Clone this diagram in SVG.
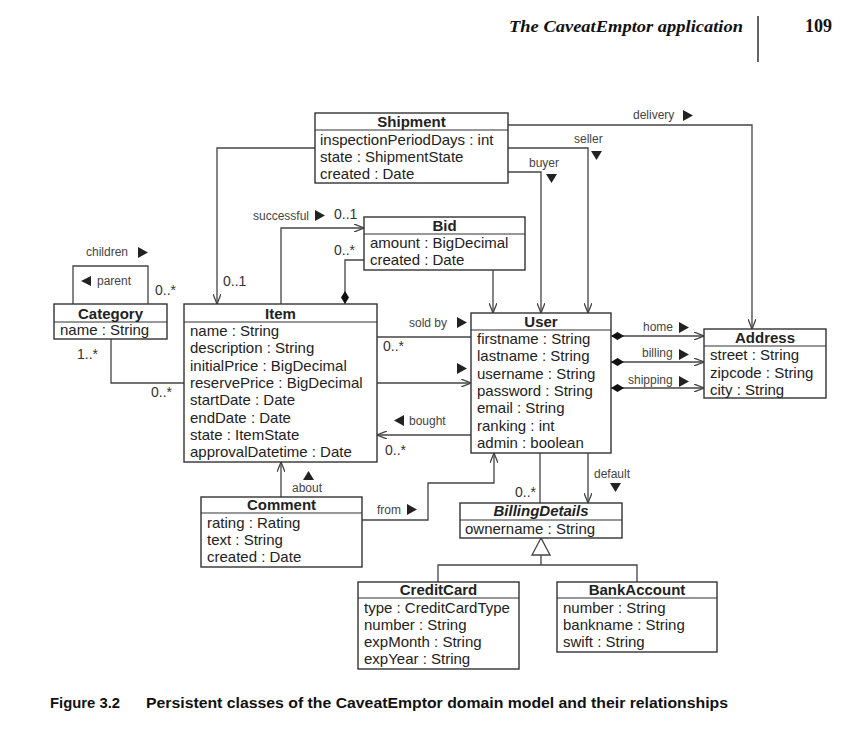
<svg xmlns="http://www.w3.org/2000/svg" width="855" height="731" viewBox="0 0 855 731">
<style>
.box{fill:#fff;stroke:#333;stroke-width:1.4}
.div{stroke:#333;stroke-width:1.2}
.t{font-family:"Liberation Sans",Arial,sans-serif;font-size:15px;fill:#222}
.h{font-family:"Liberation Sans",Arial,sans-serif;font-size:15px;font-weight:bold;fill:#222;text-anchor:middle}
.lbl{font-family:"Liberation Sans",Arial,sans-serif;font-size:12px;fill:#444}
.m{font-family:"Liberation Sans",Arial,sans-serif;font-size:14px;fill:#333}
.c{fill:none;stroke:#444;stroke-width:1.3}
.tri{fill:#222}
</style>
<defs>
<marker id="arr" viewBox="0 0 10 8" refX="10" refY="4" markerWidth="10" markerHeight="8" markerUnits="userSpaceOnUse" orient="auto">
<path d="M0,0 L10,4 L0,8" fill="none" stroke="#444" stroke-width="1.3"/>
</marker>
<marker id="dia" viewBox="0 0 13 8" refX="0" refY="4" markerWidth="13" markerHeight="8" markerUnits="userSpaceOnUse" orient="auto">
<path d="M0,4 L6.5,0 L13,4 L6.5,8 Z" fill="#111"/>
</marker>
<marker id="diaE" viewBox="0 0 13 8" refX="13" refY="4" markerWidth="13" markerHeight="8" markerUnits="userSpaceOnUse" orient="auto">
<path d="M0,4 L6.5,0 L13,4 L6.5,8 Z" fill="#111"/>
</marker>
</defs>

<!-- page header -->
<g id="header">
<text x="509" y="32" font-family="'Liberation Serif','Times New Roman',serif" font-size="17.5" font-weight="bold" font-style="italic" fill="#111" textLength="234" lengthAdjust="spacingAndGlyphs">The CaveatEmptor application</text>
<line x1="758" y1="16" x2="758" y2="62" stroke="#111" stroke-width="1.3"/>
<text x="805" y="32" font-family="'Liberation Serif','Times New Roman',serif" font-size="18" font-weight="bold" fill="#111">109</text>
</g>

<!-- connectors -->
<g id="connectors">
<path class="c" d="M508,125 H752 V329" marker-end="url(#arr)"/>
<path class="c" d="M508,148 H588 V313" marker-end="url(#arr)"/>
<path class="c" d="M508,172 H541 V313" marker-end="url(#arr)"/>
<path class="c" d="M315,148 H217 V304" marker-end="url(#arr)"/>
<path class="c" d="M281,304 V228 H364" marker-end="url(#arr)"/>
<path class="c" d="M364,260 H345 V304" marker-end="url(#diaE)"/>
<path class="c" d="M493,270 V313" marker-end="url(#arr)"/>
<path class="c" d="M73,304 V266 H148 V304"/>
<path class="c" d="M111,339 V383 H184"/>
<path class="c" d="M377,337 H471"/>
<path class="c" d="M377,383 H471" marker-end="url(#arr)"/>
<path class="c" d="M471,435 H377" marker-end="url(#arr)"/>
<path class="c" d="M611,336 H704" marker-start="url(#dia)" marker-end="url(#arr)"/>
<path class="c" d="M611,362 H704" marker-start="url(#dia)" marker-end="url(#arr)"/>
<path class="c" d="M611,388 H704" marker-start="url(#dia)" marker-end="url(#arr)"/>
<path class="c" d="M281,497 V462" marker-end="url(#arr)"/>
<path class="c" d="M362,520 H428 V483 H494 V453" marker-end="url(#arr)"/>
<path class="c" d="M540,453 V503"/>
<path class="c" d="M588,453 V503" marker-end="url(#arr)"/>
<path class="c" d="M541,555 V565 M438,582 V565 H637 V582"/>
<polygon points="541,538 532,555 550,555" fill="#fff" stroke="#444" stroke-width="1.3"/>

<!-- connector labels -->
<text class="lbl" x="633" y="119">delivery</text>
<polygon class="tri" points="683,110 693,115.5 683,121"/>
<text class="lbl" x="574" y="143">seller</text>
<polygon class="tri" points="591,151 602,151 596.5,160"/>
<text class="lbl" x="529" y="167">buyer</text>
<polygon class="tri" points="546,174 557,174 551.5,183"/>
<text class="lbl" x="86" y="256">children</text>
<polygon class="tri" points="138,247 148,252.5 138,258"/>
<polygon class="tri" points="91,276 81,281 91,286"/>
<text class="lbl" x="97" y="285">parent</text>
<text class="lbl" x="253" y="220">successful</text>
<polygon class="tri" points="315,210 325,215.5 315,221"/>
<text class="lbl" x="409" y="327">sold by</text>
<polygon class="tri" points="457,317 467,322.5 457,328"/>
<polygon class="tri" points="457,363 467,368.5 457,374"/>
<polygon class="tri" points="404,415 394,420.5 404,426"/>
<text class="lbl" x="409" y="425">bought</text>
<text class="lbl" x="643" y="331">home</text>
<polygon class="tri" points="679,322 689,327.5 679,333"/>
<text class="lbl" x="642" y="357">billing</text>
<polygon class="tri" points="679,349 689,354.5 679,360"/>
<text class="lbl" x="628" y="384">shipping</text>
<polygon class="tri" points="679,376 689,381.5 679,387"/>
<polygon class="tri" points="303,480 308.5,471 314,480"/>
<text class="lbl" x="292" y="492">about</text>
<text class="lbl" x="377" y="514">from</text>
<polygon class="tri" points="407,504 417,509.5 407,515"/>
<text class="lbl" x="594" y="478">default</text>
<polygon class="tri" points="610,483 621,483 615.5,492"/>

<!-- multiplicities -->
<text class="m" x="155" y="295">0..*</text>
<text class="m" x="223" y="286">0..1</text>
<text class="m" x="77" y="359">1..*</text>
<text class="m" x="151" y="397">0..*</text>
<text class="m" x="334" y="219">0..1</text>
<text class="m" x="334" y="255">0..*</text>
<text class="m" x="383" y="351">0..*</text>
<text class="m" x="385" y="455">0..*</text>
<text class="m" x="515" y="497">0..*</text>
</g>

<g id="Shipment">
<rect class="box" x="315" y="113" width="193" height="70"/>
<line class="div" x1="315" y1="130" x2="508" y2="130"/>
<text class="h" x="411.5" y="127">Shipment</text>
<text class="t" x="320" y="145">inspectionPeriodDays : int</text>
<text class="t" x="320" y="162">state : ShipmentState</text>
<text class="t" x="320" y="179">created : Date</text>
</g>

<g id="Bid">
<rect class="box" x="364" y="217" width="161" height="53"/>
<line class="div" x1="364" y1="234" x2="525" y2="234"/>
<text class="h" x="444.5" y="231">Bid</text>
<text class="t" x="370" y="248">amount : BigDecimal</text>
<text class="t" x="370" y="265">created : Date</text>
</g>

<g id="Category">
<rect class="box" x="54" y="304" width="113" height="35"/>
<line class="div" x1="54" y1="322" x2="167" y2="322"/>
<text class="h" x="110.5" y="319">Category</text>
<text class="t" x="60" y="335">name : String</text>
</g>

<g id="Item">
<rect class="box" x="184" y="304" width="193" height="158"/>
<line class="div" x1="184" y1="322" x2="377" y2="322"/>
<text class="h" x="280.5" y="319">Item</text>
<text class="t" x="190" y="336">name : String</text>
<text class="t" x="190" y="353.3">description : String</text>
<text class="t" x="190" y="370.6">initialPrice : BigDecimal</text>
<text class="t" x="190" y="387.9">reservePrice : BigDecimal</text>
<text class="t" x="190" y="405.2">startDate : Date</text>
<text class="t" x="190" y="422.5">endDate : Date</text>
<text class="t" x="190" y="439.8">state : ItemState</text>
<text class="t" x="190" y="457.1">approvalDatetime : Date</text>
</g>

<g id="User">
<rect class="box" x="471" y="313" width="140" height="140"/>
<line class="div" x1="471" y1="330" x2="611" y2="330"/>
<text class="h" x="541" y="327">User</text>
<text class="t" x="477" y="344">firstname : String</text>
<text class="t" x="477" y="361.3">lastname : String</text>
<text class="t" x="477" y="378.6">username : String</text>
<text class="t" x="477" y="395.9">password : String</text>
<text class="t" x="477" y="413.2">email : String</text>
<text class="t" x="477" y="430.5">ranking : int</text>
<text class="t" x="477" y="447.8">admin : boolean</text>
</g>

<g id="Address">
<rect class="box" x="704" y="329" width="122" height="69"/>
<line class="div" x1="704" y1="346" x2="826" y2="346"/>
<text class="h" x="765" y="343">Address</text>
<text class="t" x="710" y="360">street : String</text>
<text class="t" x="710" y="377.5">zipcode : String</text>
<text class="t" x="710" y="395">city : String</text>
</g>

<g id="Comment">
<rect class="box" x="201" y="497" width="161" height="70"/>
<line class="div" x1="201" y1="513" x2="362" y2="513"/>
<text class="h" x="281.5" y="510">Comment</text>
<text class="t" x="207" y="528">rating : Rating</text>
<text class="t" x="207" y="545">text : String</text>
<text class="t" x="207" y="562">created : Date</text>
</g>

<g id="BillingDetails">
<rect class="box" x="460" y="503" width="162" height="35"/>
<line class="div" x1="460" y1="520" x2="622" y2="520"/>
<text class="h" x="541" y="516" font-style="italic">BillingDetails</text>
<text class="t" x="465" y="534">ownername : String</text>
</g>

<g id="CreditCard">
<rect class="box" x="358" y="582" width="161" height="87"/>
<line class="div" x1="358" y1="598" x2="519" y2="598"/>
<text class="h" x="438.5" y="595">CreditCard</text>
<text class="t" x="364" y="613">type : CreditCardType</text>
<text class="t" x="364" y="630">number : String</text>
<text class="t" x="364" y="647">expMonth : String</text>
<text class="t" x="364" y="664">expYear : String</text>
</g>

<g id="BankAccount">
<rect class="box" x="557" y="582" width="160" height="70"/>
<line class="div" x1="557" y1="598" x2="717" y2="598"/>
<text class="h" x="637" y="595">BankAccount</text>
<text class="t" x="563" y="613">number : String</text>
<text class="t" x="563" y="630">bankname : String</text>
<text class="t" x="563" y="647">swift : String</text>
</g>

<g id="caption">
<text x="50" y="708" font-family="'Liberation Sans',Arial,sans-serif" font-size="14" font-weight="bold" fill="#111" textLength="70" lengthAdjust="spacingAndGlyphs">Figure 3.2</text>
<text x="146" y="708" font-family="'Liberation Sans',Arial,sans-serif" font-size="14" font-weight="bold" fill="#111" textLength="582" lengthAdjust="spacingAndGlyphs">Persistent classes of the CaveatEmptor domain model and their relationships</text>
</g>
</svg>
